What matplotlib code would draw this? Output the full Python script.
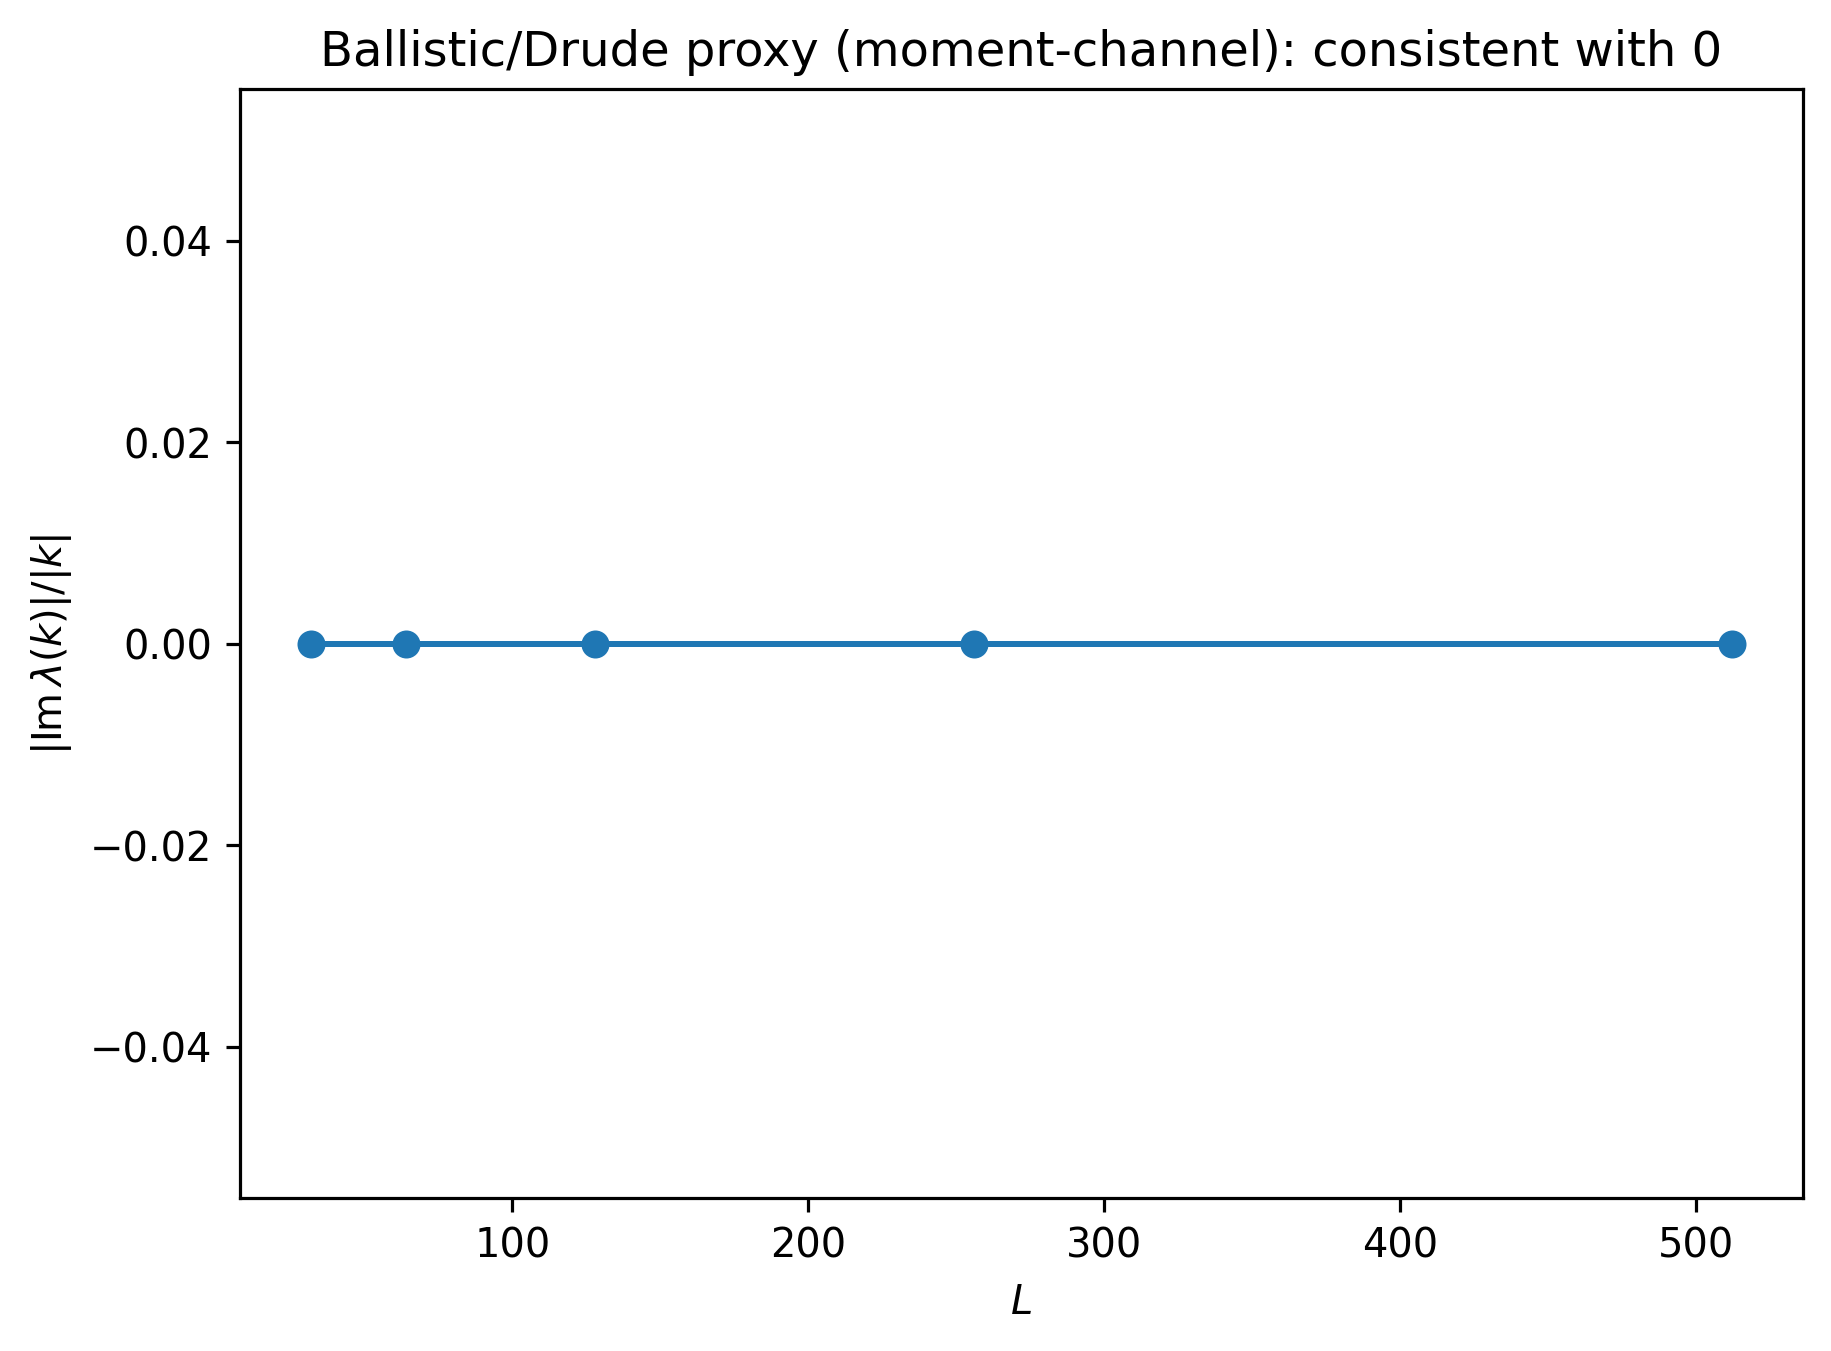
import matplotlib
matplotlib.use("Agg")
import matplotlib.pyplot as plt

L_values = [32, 64, 128, 256, 512]
im_ratio = [0.0, 0.0, 0.0, 0.0, 0.0]

fig, ax = plt.subplots(figsize=(7, 5))
ax.plot(L_values, im_ratio, marker="o")
ax.set_xlabel(r"$L$")
ax.set_ylabel(r"$|\mathrm{Im}\,\lambda(k)|/|k|$")
ax.set_title("Ballistic/Drude proxy (moment-channel): consistent with 0")
fig.savefig("out.png", dpi=288, bbox_inches="tight")
